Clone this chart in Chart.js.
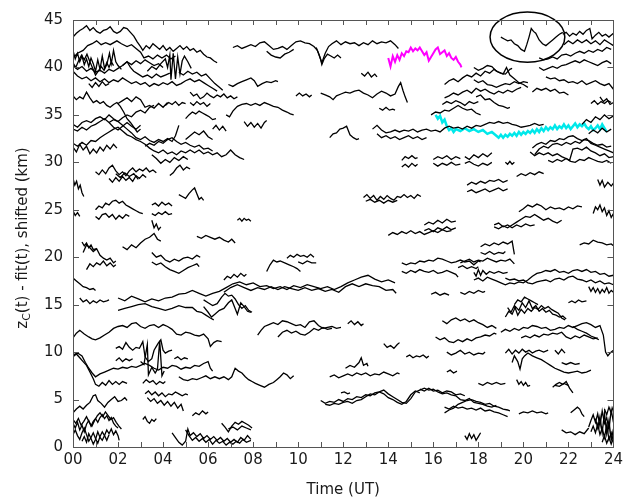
<!DOCTYPE html>
<html>
<head>
<meta charset="utf-8">
<script src="https://cdn.jsdelivr.net/npm/chart.js@4/dist/chart.umd.min.js"></script>
<style>
  body { margin: 0; background: #fff; }
  #wrap { width: 627px; height: 502px; }
</style>
</head>
<body>
<div id="wrap"><canvas id="chart" width="627" height="502"></canvas></div>
<script>
// each trace is a flat list: time (h UT), height (km), time, height, ...
const bandTop = [
  [0,43.2, 0.15,43.6, 0.3,43.9, 0.45,44.1, 0.6,44.4, 0.75,43.9, 0.9,44.2, 1.05,43.8, 1.2,43.6, 1.35,43.9, 1.5,44.0, 1.65,44.3, 1.8,43.8, 1.95,43.6, 2.1,43.8, 2.25,44.2, 2.4,44.1, 2.55,43.7, 2.7,43.3, 2.85,42.7, 3.0,42.2, 3.1,41.8, 3.25,42.3, 3.4,42.0, 3.55,42.5, 3.7,42.2, 3.85,41.9, 4.0,42.3, 4.15,41.8, 4.3,42.1, 4.45,41.7, 4.6,42.0, 4.75,42.3, 4.9,41.9, 5.05,42.2, 5.2,41.8, 5.35,42.0, 5.5,41.6, 5.65,41.8, 5.8,41.4, 5.95,41.1, 6.1,41.0, 6.25,40.7, 6.4,40.5],
  [0,41.0, 0.2,41.5, 0.45,41.8, 0.65,42.3, 0.85,42.5, 1.05,42.8, 1.25,42.4, 1.45,42.6, 1.65,42.4, 1.95,42.8, 2.15,42.5, 2.4,42.2, 2.6,42.4, 2.8,42.0, 3.0,41.6, 3.15,41.0, 3.35,41.2, 3.55,40.9, 3.75,41.3, 3.95,41.0, 4.15,41.3, 4.35,40.9, 4.55,41.2],
  [0,41.8, 0.1,40.9, 0.2,41.5, 0.3,40.6, 0.4,41.2, 0.5,40.3, 0.6,40.9, 0.7,40.1, 0.8,41.0, 0.9,40.4, 1.0,39.6, 1.1,40.8, 1.2,39.8, 1.3,41.2, 1.4,39.9, 1.5,40.5, 1.6,40.0, 1.7,40.6, 1.8,40.2],
  [0,40.5, 0.12,40.0, 0.25,40.7, 0.38,41.3, 0.5,40.8, 0.62,41.4, 0.75,40.6, 0.88,39.9, 1.0,39.2, 1.12,39.6, 1.25,40.1, 1.38,39.7, 1.5,40.3, 1.62,41.5, 1.7,40.4, 1.8,41.8, 1.9,40.6, 2.0,40.2, 2.15,39.8],
  [0,39.6, 0.2,39.1, 0.4,38.8, 0.6,39.0, 0.8,38.6, 1.0,38.9, 1.2,38.5, 1.4,38.8, 1.6,38.4, 1.8,38.7, 2.0,38.5, 2.2,38.9, 2.4,38.6, 2.6,38.3, 2.8,38.5, 3.0,38.2, 3.2,38.4, 3.4,38.0, 3.6,38.3, 3.8,38.1, 4.0,38.4, 4.2,38.2, 4.4,38.5, 4.6,38.1, 4.8,38.3, 5.0,38.6, 5.2,38.8, 5.4,38.5, 5.6,38.7, 5.8,38.4, 6.0,38.1, 6.2,37.8, 6.4,37.5],
  [0,40.2, 0.2,39.8, 0.4,40.1, 0.6,39.6, 0.8,39.9, 1.0,39.5, 1.2,39.7, 1.4,39.4, 1.6,39.8, 1.8,39.6, 2.0,39.9, 2.2,40.2, 2.4,40.6, 2.55,40.0, 2.7,39.6, 2.9,39.3, 3.1,39.0, 3.3,39.2, 3.5,38.9, 3.7,39.3, 3.9,39.0, 4.1,39.2, 4.3,39.4],
  [3.3,39.6, 3.5,40.1, 3.7,39.8, 3.9,40.4, 4.1,40.9, 4.2,40.0, 4.3,41.3, 4.35,38.7, 4.45,41.5, 4.55,38.8, 4.65,41.1, 4.75,39.3, 4.85,40.7, 4.95,41.2, 5.1,40.6, 5.25,39.9],
  [4.7,39.5, 4.9,39.2, 5.1,39.6, 5.3,39.3, 5.5,39.5, 5.7,39.1, 5.9,39.3, 6.1,38.8, 6.3,38.3, 6.5,37.9, 6.65,37.6],
  [0.7,38.3, 0.85,37.9, 1.0,38.4, 1.15,38.0, 1.3,38.5, 1.45,38.1, 1.6,38.3],
  [2.2,40.2, 2.4,40.6, 2.6,40.3, 2.8,40.7, 3.0,40.4, 3.2,40.8, 3.4,40.5, 3.6,40.2, 3.8,40.4, 4.0,40.0],
  [7.1,42.1, 7.3,42.3, 7.5,42.0, 7.7,42.2, 7.9,42.4, 8.1,42.2, 8.3,42.6, 8.5,42.7, 8.7,42.3, 8.9,41.9, 9.1,42.0, 9.3,42.2, 9.5,41.9, 9.7,42.3, 9.9,42.7, 10.1,42.8, 10.3,42.6, 10.5,42.5, 10.7,42.2, 10.85,41.8, 10.95,41.2, 11.05,40.5, 11.2,41.5, 11.35,42.2, 11.5,42.5, 11.7,42.8, 11.9,42.4, 12.1,42.7, 12.3,42.5, 12.5,42.6, 12.7,42.3, 12.9,42.6, 13.1,42.4, 13.3,42.8, 13.5,42.5, 13.7,42.7, 13.9,42.6, 14.1,42.8, 14.3,42.4, 14.45,42.0],
  [8.6,41.7, 8.8,41.3, 9.0,41.1, 9.2,41.0, 9.4,41.4, 9.6,41.6, 9.8,41.9],
  [10.8,42.1, 10.9,41.5, 11.0,40.8, 11.05,40.3, 11.15,40.9, 11.3,41.4, 11.45,41.2, 11.6,41.0, 11.75,41.3, 11.9,41.0],
  [19.0,43.2, 19.15,43.0, 19.3,42.8, 19.45,42.9, 19.6,42.5, 19.75,42.3, 19.9,41.9, 20.05,41.7, 20.15,42.4, 20.25,43.2, 20.35,44.1, 20.45,43.8, 20.55,43.6, 20.7,42.9, 20.85,42.5, 21.0,42.3, 21.15,42.6, 21.3,42.9, 21.45,43.2, 21.6,43.5, 21.75,43.7],
  [21.75,43.5, 21.9,43.7, 22.05,43.3, 22.2,43.6, 22.35,43.4, 22.5,43.8, 22.65,43.5, 22.8,43.9, 22.95,44.1, 23.05,43.0, 23.2,43.4, 23.35,43.7, 23.5,43.3, 23.65,43.5, 23.8,43.2, 24.0,43.6],
  [21.8,42.4, 22.0,42.8, 22.2,42.5, 22.4,42.9, 22.6,42.6, 22.8,42.9, 23.0,42.5, 23.2,42.8, 23.4,42.4, 23.6,42.9, 23.8,42.6, 24.0,42.3],
  [20.7,40.0, 20.9,39.7, 21.1,39.9, 21.3,40.1, 21.5,39.9, 21.7,40.2, 21.9,40.3, 22.1,40.5, 22.3,40.7, 22.5,40.5, 22.7,40.8, 22.9,40.6, 23.1,40.4, 23.3,40.2, 23.5,40.5, 23.7,40.7, 23.9,40.4],
  [20.7,41.0, 20.9,40.8, 21.1,40.9, 21.3,41.1, 21.5,40.9, 21.7,41.3, 21.9,41.4, 22.1,41.2, 22.3,41.5, 22.5,41.7, 22.7,41.5, 22.9,41.8, 23.1,41.6, 23.3,41.9, 23.5,41.7, 23.7,42.1, 23.9,41.9],
  [21.0,39.0, 21.2,38.8, 21.4,38.9, 21.6,38.6, 21.8,38.7, 22.0,38.4, 22.2,38.5, 22.4,38.3, 22.6,38.6, 22.8,38.2, 23.0,38.4, 23.2,38.6, 23.4,38.3, 23.6,38.1, 23.8,38.3, 24.0,37.7],
  [16.5,38.2, 16.7,38.6, 16.9,38.8, 17.1,38.5, 17.3,38.9, 17.5,39.2, 17.7,39.0, 17.9,39.4, 18.1,39.1, 18.3,39.6, 18.5,39.4, 18.7,39.8, 18.9,39.5, 19.1,39.3, 19.25,40.0, 19.4,39.2, 19.6,38.8, 19.8,38.4, 20.0,38.2, 20.2,37.9],
  [17.8,40.0, 18.0,39.7, 18.2,39.9, 18.4,40.2, 18.6,40.1, 18.8,39.6, 19.0,39.4, 19.2,39.3, 19.4,39.8, 19.5,39.9],
  [17.8,38.7, 18.0,38.4, 18.2,38.6, 18.4,38.2, 18.6,38.1, 18.8,37.9, 19.0,38.1, 19.2,38.3, 19.4,38.2, 19.6,38.5, 19.8,38.3, 20.0,38.5, 20.2,38.4],
  [6.9,38.2, 7.1,38.0, 7.3,38.3, 7.5,38.5, 7.7,38.7, 7.9,38.9, 8.05,38.6, 8.2,38.0, 8.4,38.3, 8.6,38.5, 8.8,38.4, 9.0,38.6, 9.1,38.5],
  [12.8,39.4, 12.95,39.1, 13.1,39.5, 13.25,39.0, 13.4,39.3, 13.5,39.0]
];

const band30 = [
  [5.2,37.4, 5.35,37.0, 5.5,37.2, 5.65,36.7, 5.8,36.9, 5.95,37.3, 6.1,37.0, 6.25,36.8, 6.4,37.1, 6.55,36.9, 6.7,37.2, 6.85,36.8, 7.0,37.0, 7.15,36.7, 7.3,36.9],
  [5.2,36.3, 5.35,36.0, 5.5,36.4, 5.65,36.1, 5.8,36.3, 5.95,35.9, 6.1,36.2],
  [0,37.0, 0.15,36.6, 0.3,36.9, 0.45,36.7, 0.6,37.4, 0.75,36.8, 0.9,36.3, 1.05,36.5, 1.2,36.2, 1.35,36.4, 1.5,36.0, 1.65,35.8, 1.8,36.1, 1.95,36.3, 2.1,35.9, 2.25,35.3, 2.4,34.6, 2.55,34.2, 2.7,33.7, 2.85,33.2, 3.0,33.5],
  [2.0,36.2, 2.2,36.5, 2.4,36.8, 2.6,36.4, 2.8,36.9, 3.0,36.6, 3.2,35.8, 3.4,36.0, 3.6,35.7, 3.8,36.2, 4.0,35.8, 4.2,36.3],
  [4.1,36.0, 4.25,36.3, 4.4,36.1, 4.55,36.4, 4.7,36.0, 4.85,36.3, 5.0,36.2],
  [5.0,34.6, 5.15,35.0, 5.3,35.3, 5.45,35.1, 5.6,35.4, 5.75,35.2, 5.9,35.0, 6.05,34.8, 6.2,34.5, 6.35,34.6],
  [6.2,33.5, 6.35,33.9, 6.5,33.4, 6.65,33.8, 6.8,33.3],
  [0,34.0, 0.2,33.7, 0.4,34.2, 0.6,34.4, 0.8,34.2, 1.0,34.6, 1.2,34.8, 1.4,34.5, 1.6,35.0, 1.8,34.6, 2.0,34.3, 2.2,33.9, 2.4,33.5, 2.6,33.1, 2.8,32.6, 3.0,32.4, 3.2,32.7, 3.4,32.3, 3.6,32.1, 3.8,32.4, 4.0,32.2, 4.2,32.5, 4.4,32.2, 4.55,32.8, 4.7,33.9],
  [0,33.5, 0.2,33.3, 0.4,33.7, 0.6,33.4, 0.8,33.8, 1.0,34.0, 1.2,34.3, 1.4,34.6, 1.6,34.2, 1.8,33.7, 2.0,33.4, 2.2,33.8, 2.4,34.2, 2.6,33.8, 2.8,33.5, 3.0,33.9],
  [1.6,34.2, 1.8,34.5, 2.0,34.3, 2.2,34.7, 2.4,35.0, 2.6,34.8, 2.8,35.3, 3.0,35.5, 3.2,35.2, 3.4,35.8, 3.6,36.0],
  [0,32.0, 0.2,31.7, 0.4,32.1, 0.6,31.8, 0.8,32.3, 1.0,32.2, 1.2,32.6, 1.4,32.9, 1.6,33.2, 1.8,33.5, 2.0,33.7, 2.2,33.3, 2.4,32.9, 2.6,32.7, 2.8,32.4, 3.0,32.2, 3.2,31.9, 3.4,31.5, 3.6,31.2, 3.8,31.0, 4.0,31.3, 4.2,30.9, 4.4,31.1, 4.6,30.8, 4.8,31.2, 5.0,31.0, 5.2,31.3, 5.4,31.0, 5.6,31.3, 5.8,30.9, 6.0,31.1, 6.2,30.8, 6.4,31.0, 6.6,30.6, 6.8,30.8, 7.0,31.3, 7.2,30.8, 7.4,30.5, 7.6,30.3],
  [0,31.6, 0.15,31.1, 0.3,31.9, 0.45,31.3, 0.6,31.7, 0.75,30.9, 0.9,31.4, 1.05,31.0, 1.2,31.6, 1.35,31.2, 1.5,31.8, 1.65,31.4, 1.8,31.9, 1.95,31.5],
  [3.2,31.7, 3.4,32.0, 3.6,31.8, 3.8,32.2, 4.0,32.0, 4.2,32.4, 4.4,32.6, 4.6,32.2, 4.8,31.9, 5.0,32.1, 5.2,31.8, 5.4,31.6, 5.6,31.8, 5.8,31.4, 6.0,31.5, 6.2,31.2],
  [5.0,32.4, 5.2,32.8, 5.4,33.2, 5.6,32.9, 5.8,33.3, 6.0,32.7, 6.2,32.4],
  [3.5,30.8, 3.7,30.4, 3.9,29.9, 4.1,30.3, 4.3,30.0, 4.5,30.5, 4.7,30.2, 4.9,30.6, 5.1,30.3],
  [16.5,36.8, 16.7,37.0, 16.9,37.3, 17.1,37.1, 17.3,37.4, 17.5,37.6, 17.7,37.3, 17.9,37.8, 18.1,37.5, 18.3,37.7, 18.5,37.4, 18.7,37.2, 18.9,37.5, 19.1,37.3, 19.3,37.6, 19.5,37.4, 19.7,37.7, 19.9,37.9],
  [17.9,36.9, 18.1,37.1, 18.3,36.6, 18.5,36.7, 18.7,36.3, 18.9,36.0, 19.1,35.9, 19.3,35.7, 19.4,35.8],
  [15.9,35.0, 16.1,35.3, 16.3,35.2, 16.5,35.5, 16.7,35.4, 16.9,35.7, 17.1,36.0, 17.3,35.7, 17.5,35.5, 17.7,35.6, 17.9,35.2, 18.1,35.0],
  [16.4,36.1, 16.6,36.4, 16.8,36.2, 17.0,36.5, 17.2,36.3, 17.4,36.0, 17.6,36.4, 17.8,36.2, 18.0,36.4],
  [13.6,35.7, 13.75,35.5, 13.9,35.8, 14.05,35.5, 14.2,35.6, 14.3,35.5],
  [11.0,37.3, 11.2,37.1, 11.4,36.9, 11.55,36.6, 11.7,37.0, 11.9,37.2, 12.1,37.4, 12.3,37.3, 12.5,37.5, 12.7,37.6, 12.9,37.3, 13.1,37.1, 13.3,36.8, 13.5,37.2, 13.7,37.5, 13.9,37.3, 14.1,37.0, 14.3,37.2, 14.45,38.0, 14.55,38.4, 14.65,37.6, 14.75,36.9, 14.85,36.3],
  [9.9,37.0, 10.05,37.3, 10.2,37.0, 10.35,37.2, 10.5,36.9, 10.6,37.1],
  [6.8,35.0, 6.95,34.8, 7.1,35.4, 7.3,35.9, 7.5,36.1, 7.7,36.2, 7.9,36.0, 8.1,36.2, 8.3,36.0, 8.5,36.3, 8.7,36.1, 8.9,35.9, 9.1,35.8, 9.3,35.5, 9.5,35.3, 9.65,35.1, 9.8,35.0],
  [7.6,34.3, 7.75,33.8, 7.9,34.2, 8.05,33.7, 8.2,34.1, 8.35,33.6, 8.5,34.2, 8.6,34.4],
  [11.4,32.6, 11.55,33.0, 11.7,33.1, 11.85,33.5, 12.0,33.6, 12.15,33.8, 12.3,32.9, 12.45,32.6, 12.6,32.4, 12.7,32.5],
  [13.3,33.5, 13.5,33.9, 13.7,33.4, 13.9,33.1, 14.1,33.2, 14.3,33.4, 14.5,33.2, 14.7,33.4, 14.9,33.3, 15.1,33.5, 15.3,33.2, 15.5,33.4, 15.7,33.5, 15.9,33.3, 16.1,33.4, 16.3,33.2, 16.5,33.6, 16.7,33.8, 16.9,33.6, 17.1,33.7, 17.3,33.5, 17.5,33.8, 17.7,33.6, 17.9,33.9, 18.1,33.8, 18.3,34.0, 18.5,34.2, 18.7,34.1, 18.9,34.3, 19.1,34.1, 19.3,34.2, 19.5,34.0, 19.7,33.9, 19.9,33.7, 20.1,33.8, 20.3,33.9, 20.5,34.1, 20.7,33.9, 20.9,34.0],
  [13.5,33.0, 13.7,32.6, 13.9,32.8, 14.1,32.5, 14.3,32.7, 14.5,32.4, 14.7,32.6, 14.9,32.8, 15.1,32.5, 15.3,32.7, 15.5,32.4, 15.7,32.6],
  [22.6,34.0, 22.8,34.5, 23.0,34.2, 23.2,34.8, 23.4,34.5, 23.6,35.0, 23.8,34.6, 24.0,34.9],
  [22.9,33.0, 23.1,33.4, 23.3,33.1, 23.5,33.6, 23.7,33.2, 23.9,33.5],
  [20.4,31.5, 20.6,31.9, 20.8,32.1, 21.0,31.9, 21.2,32.3, 21.4,32.2, 21.6,32.5, 21.8,32.4, 22.0,32.7, 22.2,32.8, 22.4,32.5, 22.6,32.3, 22.8,32.5, 23.0,32.0, 23.2,31.8, 23.4,31.6, 23.6,31.4, 23.8,31.2, 24.0,31.0],
  [20.3,31.1, 20.5,30.7, 20.7,31.0, 20.9,30.8, 21.1,31.0, 21.3,30.7, 21.5,30.9, 21.7,30.6, 21.9,30.4, 22.05,30.2, 22.2,31.4, 22.4,31.5, 22.6,31.3, 22.8,31.6, 23.0,31.2, 23.2,31.0, 23.4,30.7, 23.6,30.9, 23.8,30.5, 24.0,30.6],
  [20.5,30.8, 20.7,31.4, 20.9,31.7, 21.1,31.5, 21.3,31.9, 21.5,32.0, 21.7,31.8, 21.9,32.1, 22.1,31.9, 22.3,32.2, 22.5,32.0, 22.7,32.4, 22.9,32.3, 23.1,32.0, 23.3,31.8, 23.5,31.9, 23.7,31.6, 23.9,31.7],
  [21.1,30.2, 21.3,30.0, 21.5,30.3, 21.7,30.1, 21.9,30.4, 22.1,30.1, 22.3,30.0, 22.5,30.3, 22.7,30.2, 22.9,30.5, 23.1,30.3, 23.3,30.1, 23.5,30.0, 23.7,30.2, 23.9,29.9],
  [23.0,36.2, 23.15,36.5, 23.3,36.1, 23.45,36.4, 23.6,36.2, 23.75,36.5, 23.9,36.3],
  [23.4,36.9, 23.55,36.4, 23.7,36.7, 23.85,36.1, 24.0,36.3],
  [20.4,37.4, 20.6,37.8, 20.8,37.6, 21.0,37.8, 21.2,37.5, 21.4,37.7, 21.6,37.3, 21.8,37.4, 22.0,37.1]
];

const band20 = [
  [1.0,29.0, 1.15,28.7, 1.3,29.2, 1.45,28.8, 1.6,29.4, 1.75,29.7, 1.9,29.1, 2.05,28.7, 2.2,29.0, 2.35,28.6, 2.5,29.1, 2.65,29.4, 2.8,29.0, 2.95,29.3, 3.1,29.1, 3.25,29.4, 3.4,29.0, 3.55,29.2, 3.7,28.9],
  [1.6,28.3, 1.75,27.9, 1.9,28.4, 2.05,28.0, 2.2,28.5, 2.35,28.1, 2.5,28.4, 2.65,28.0, 2.8,28.6, 2.95,28.3, 3.1,28.7, 3.25,28.4],
  [1.9,28.8, 2.1,28.4, 2.3,28.9, 2.5,28.5, 2.7,28.8, 2.9,28.2],
  [4.3,28.6, 4.45,28.9, 4.6,29.4, 4.75,29.7, 4.9,29.2, 5.05,29.5, 5.2,29.3],
  [0,28.3, 0.08,27.6, 0.16,28.0, 0.24,27.2, 0.32,27.6, 0.4,26.8, 0.48,26.4],
  [4.7,26.6, 4.85,26.4, 5.0,26.2, 5.15,26.7, 5.3,27.1, 5.4,27.3, 5.5,26.7, 5.6,26.1, 5.7,26.3, 5.8,26.0],
  [1.0,25.0, 1.15,25.4, 1.3,25.2, 1.45,25.7, 1.6,25.5, 1.75,25.9, 1.9,26.0, 2.05,25.7, 2.2,25.9, 2.35,25.5, 2.5,25.3, 2.65,25.1, 2.8,24.9, 2.95,24.7, 3.1,24.6],
  [1.0,24.3, 1.15,24.0, 1.3,24.5, 1.45,24.6, 1.6,24.2, 1.75,24.5, 1.9,24.0, 2.05,24.4, 2.2,24.1, 2.35,24.5, 2.5,24.3],
  [3.5,25.5, 3.65,25.7, 3.8,25.4, 3.95,25.8, 4.1,25.5, 4.25,25.7, 4.4,25.4],
  [3.5,24.6, 3.65,24.4, 3.8,24.7, 3.95,24.5, 4.1,24.8, 4.25,24.5, 4.4,24.6],
  [3.5,23.9, 3.6,23.1, 3.7,23.5, 3.8,22.9, 3.9,23.2],
  [7.3,23.9, 7.4,24.1, 7.5,23.8, 7.6,24.1, 7.7,23.9, 7.8,24.0, 7.9,23.8],
  [5.5,22.2, 5.7,22.0, 5.9,22.3, 6.1,22.1, 6.3,21.9, 6.5,22.1, 6.7,21.8, 6.9,21.6, 7.05,21.9, 7.2,21.5],
  [0,24.9, 0.1,24.4, 0.2,24.7, 0.3,24.3],
  [0.4,21.6, 0.5,21.2, 0.6,21.5, 0.7,21.0, 0.8,21.3, 0.9,20.8, 1.05,20.9],
  [0.45,20.5, 0.6,21.3, 0.75,21.0, 0.9,20.6, 1.05,20.9, 1.2,20.2, 1.35,19.9, 1.5,19.7, 1.65,19.9, 1.8,19.4, 1.9,19.6],
  [0.6,18.7, 0.75,19.3, 0.9,19.0, 1.05,19.4, 1.2,19.2, 1.35,19.6, 1.5,19.1, 1.65,19.4, 1.8,19.0, 1.9,19.2],
  [2.2,21.1, 2.4,20.8, 2.6,21.3, 2.8,21.0, 3.0,21.5, 3.2,21.9, 3.4,22.1, 3.6,22.5, 3.75,21.9, 3.9,21.7],
  [3.5,20.5, 3.7,20.0, 3.9,20.2, 4.1,19.7, 4.3,19.5, 4.5,19.8, 4.7,19.6, 4.9,19.9, 5.1,20.0, 5.3,19.8, 5.5,20.2, 5.65,20.0],
  [3.5,19.5, 3.7,19.2, 3.9,19.4, 4.1,19.0, 4.3,18.7, 4.5,18.5, 4.7,18.3, 4.9,18.6, 5.1,18.9, 5.3,19.1, 5.5,19.3, 5.6,19.0],
  [8.6,18.5, 8.75,19.2, 8.9,19.7, 9.05,19.5, 9.2,19.6, 9.4,19.4, 9.6,19.2, 9.8,19.0, 9.95,18.8, 10.1,18.5],
  [9.5,19.9, 9.65,20.2, 9.8,20.0, 9.95,20.3, 10.1,20.1, 10.25,20.2, 10.4,20.0, 10.55,20.3, 10.7,20.0],
  [10.0,19.5, 10.2,19.3, 10.4,19.6, 10.6,19.4, 10.8,19.4],
  [14.6,30.2, 14.75,30.6, 14.9,30.4, 15.05,30.7, 15.2,30.4, 15.3,30.5],
  [14.6,29.5, 14.75,29.8, 14.9,29.5, 15.05,29.9, 15.2,29.6, 15.3,29.8],
  [16.0,30.3, 16.2,30.6, 16.4,30.4, 16.6,30.7, 16.8,30.3, 17.0,30.6, 17.2,30.4],
  [16.0,29.9, 16.2,29.6, 16.4,29.9, 16.6,29.7, 16.8,30.0, 17.0,29.7, 17.2,29.8],
  [17.4,30.6, 17.6,30.3, 17.8,30.8, 18.0,30.5, 18.2,30.9, 18.4,30.6, 18.6,31.0],
  [17.4,29.9, 17.6,30.1, 17.8,29.8, 18.0,29.6, 18.2,29.9, 18.4,29.7, 18.6,30.0],
  [19.2,30.0, 19.3,29.8, 19.4,30.1, 19.5,29.8, 19.6,30.0],
  [19.7,28.5, 19.9,28.8, 20.1,28.6, 20.3,28.9, 20.5,28.7, 20.7,29.0, 20.9,28.8],
  [17.5,27.6, 17.7,27.9, 17.9,27.7, 18.1,28.0, 18.3,27.8, 18.5,28.1, 18.7,28.0, 18.9,28.2, 19.1,27.9, 19.3,28.1],
  [17.5,26.9, 17.7,27.1, 17.9,26.8, 18.1,27.0, 18.3,27.2, 18.5,26.9, 18.7,27.1, 18.9,27.3, 19.1,27.0, 19.3,27.2],
  [23.3,28.2, 23.4,27.6, 23.5,28.1, 23.6,27.4, 23.75,27.9, 23.9,27.5, 24.0,27.8],
  [12.9,26.3, 13.05,26.6, 13.2,26.2, 13.35,26.5, 13.5,26.0, 13.65,26.4, 13.8,26.1, 13.95,26.5, 14.1,26.2, 14.25,26.0, 14.4,26.4, 14.55,26.3, 14.7,26.6, 14.85,26.3, 15.0,26.5, 15.15,26.2, 15.3,26.6, 15.45,26.4],
  [13.0,25.9, 13.2,26.1, 13.4,25.8, 13.6,26.0, 13.8,25.7, 14.0,26.0, 14.2,25.8, 14.4,26.0],
  [19.8,24.8, 20.0,25.1, 20.2,25.5, 20.4,25.3, 20.6,25.6, 20.8,25.4, 21.0,25.0, 21.2,25.3, 21.4,25.1, 21.6,25.2, 21.8,25.0, 22.0,25.3, 22.2,25.1, 22.4,25.4, 22.6,25.3],
  [18.7,23.2, 18.9,23.0, 19.1,23.3, 19.3,23.1, 19.5,23.4, 19.7,23.7, 19.9,24.0, 20.1,24.3, 20.3,24.2, 20.5,24.5, 20.7,24.2, 20.9,23.9, 21.1,24.1, 21.3,23.8, 21.5,23.6, 21.7,23.9],
  [18.7,23.4, 18.9,23.6, 19.1,23.2, 19.3,23.4, 19.5,23.1, 19.7,23.4, 19.9,23.2, 20.1,23.5, 20.3,23.3, 20.5,23.4],
  [23.1,24.6, 23.2,25.3, 23.3,25.0, 23.4,25.5, 23.5,24.8, 23.6,25.2, 23.7,24.4, 23.8,24.9, 23.9,24.2, 24.0,24.6],
  [15.6,23.4, 15.8,23.7, 16.0,23.5, 16.2,23.9, 16.4,23.6, 16.6,24.0, 16.8,23.7, 17.0,23.8],
  [15.6,22.8, 15.8,23.0, 16.0,22.7, 16.2,23.1, 16.4,22.9, 16.6,23.2, 16.8,22.9, 17.0,23.1],
  [14.0,22.3, 14.2,22.6, 14.4,22.4, 14.6,22.7, 14.8,22.5, 15.0,22.8, 15.2,22.5, 15.4,22.7, 15.6,22.4, 15.8,22.6, 16.0,22.8, 16.2,22.6, 16.4,22.9, 16.6,22.7, 16.8,22.8],
  [18.1,21.1, 18.3,21.4, 18.5,21.2, 18.7,21.5, 18.9,21.3, 19.1,21.6, 19.3,21.4, 19.5,21.7, 19.6,20.3],
  [18.1,20.5, 18.3,20.3, 18.5,20.6, 18.7,20.3, 18.9,20.5, 19.1,20.4, 19.2,20.6],
  [22.5,21.3, 22.7,21.5, 22.9,21.4, 23.1,21.8, 23.3,21.6, 23.5,21.5, 23.7,21.3, 23.9,21.4, 24.0,21.2]
];

const band10 = [
  [0,17.8, 0.15,17.5, 0.3,17.2, 0.45,16.9, 0.6,16.8, 0.75,16.6, 0.9,16.7, 1.0,16.5],
  [0.3,15.7, 0.45,15.3, 0.6,15.5, 0.75,15.1, 0.9,15.4, 1.05,15.2, 1.2,15.5, 1.35,15.3, 1.5,15.4, 1.6,15.5],
  [2.0,15.7, 2.3,15.4, 2.6,15.9, 2.9,15.6, 3.2,15.3, 3.5,15.6, 3.8,15.4, 4.1,15.7, 4.4,15.8, 4.7,16.1, 5.0,16.2, 5.3,16.5, 5.6,16.2, 5.9,15.9, 6.2,16.2, 6.5,16.4, 6.8,16.8, 7.1,17.2, 7.4,17.4, 7.7,17.1, 8.0,17.3, 8.3,16.9, 8.6,17.0, 8.9,16.7, 9.2,16.9, 9.5,16.6, 9.8,17.0, 10.1,16.8, 10.4,17.1, 10.7,16.9, 11.0,16.7, 11.3,16.9, 11.6,16.6, 11.9,16.9, 12.2,17.3, 12.5,17.6, 12.8,17.9, 13.1,18.1, 13.4,17.7, 13.7,17.4, 14.0,17.6, 14.3,17.3],
  [6.7,16.3, 7.0,16.8, 7.3,17.1, 7.6,16.8, 7.9,16.5, 8.2,16.8, 8.5,16.6, 8.8,16.9, 9.1,16.6, 9.4,16.9, 9.7,16.7, 10.0,16.5, 10.3,16.8, 10.6,16.5, 10.9,16.7, 11.2,16.4, 11.5,16.6, 11.8,16.3, 12.1,16.9, 12.4,17.2, 12.7,16.9, 13.0,17.2, 13.3,17.0, 13.6,16.9, 13.9,16.5, 14.2,16.6, 14.35,16.2],
  [2.0,14.4, 2.3,14.6, 2.6,14.8, 2.9,15.0, 3.2,15.1, 3.5,14.8, 3.8,14.6, 4.1,14.4, 4.4,14.6, 4.7,14.9, 5.0,14.7, 5.3,14.7, 5.5,14.3, 5.7,14.2, 5.9,13.9, 6.1,13.6, 6.25,13.4],
  [5.8,15.5, 6.0,15.2, 6.2,14.9, 6.4,15.1, 6.6,15.8, 6.75,16.2, 6.9,15.9, 7.05,16.0, 7.2,15.6, 7.35,15.0, 7.5,14.6, 7.65,14.9, 7.8,14.4, 7.95,14.2],
  [5.8,14.8, 6.0,14.2, 6.15,13.7, 6.3,14.0, 6.5,14.4, 6.7,14.6, 6.9,15.2, 7.05,15.5, 7.2,14.6, 7.3,14.0, 7.45,15.2, 7.6,14.8, 7.75,14.3, 7.9,14.2],
  [6.7,17.6, 6.85,18.0, 7.0,17.8, 7.15,18.2, 7.3,17.9, 7.45,18.3, 7.6,18.0, 7.7,18.2],
  [0,11.5, 0.15,12.0, 0.3,12.3, 0.5,11.9, 0.7,11.6, 0.85,11.4, 1.0,11.3, 1.2,11.5, 1.4,11.8, 1.6,12.1, 1.8,12.5, 2.0,12.7, 2.2,12.8, 2.4,12.6, 2.6,13.0, 2.8,13.1, 3.0,12.7, 3.2,12.5, 3.4,12.8, 3.6,12.9, 3.8,12.6, 4.0,12.9, 4.2,12.7, 4.4,12.4, 4.6,11.9, 4.8,11.8, 5.0,12.1, 5.2,12.0, 5.4,11.8, 5.6,11.7, 5.8,11.9, 6.0,11.4, 6.1,10.6, 6.25,11.0, 6.4,11.2, 6.6,11.1],
  [8.2,11.8, 8.35,12.3, 8.5,12.7, 8.7,12.9, 8.9,13.1, 9.1,12.9, 9.3,13.3, 9.5,13.2, 9.7,13.0, 9.9,12.8, 10.1,12.9, 10.3,12.6, 10.5,13.2, 10.7,13.3, 10.9,12.8, 11.1,12.5, 11.3,12.6, 11.5,12.7, 11.7,12.5, 11.9,12.6],
  [9.1,11.6, 9.3,12.1, 9.5,12.3, 9.7,12.0, 9.9,12.2, 10.1,11.9, 10.3,11.8, 10.5,12.1, 10.7,12.5, 10.9,12.3, 11.1,12.6, 11.3,12.4, 11.5,12.5],
  [14.6,19.4, 14.8,19.2, 15.0,19.4, 15.2,19.3, 15.4,19.6, 15.6,19.5, 15.8,19.7, 16.0,19.6, 16.2,19.9, 16.4,19.8, 16.6,19.6, 16.8,19.4, 17.0,19.5, 17.2,19.7, 17.4,19.5, 17.6,19.6, 17.8,19.2, 18.0,19.6, 18.1,19.5],
  [14.6,18.5, 14.8,18.3, 15.0,18.6, 15.2,18.4, 15.4,18.7, 15.6,18.5, 15.8,18.4, 16.0,18.6, 16.2,18.3, 16.4,18.4, 16.6,18.6, 16.8,18.4, 17.0,18.2, 17.1,17.9],
  [17.2,19.4, 17.4,19.6, 17.6,19.8, 17.8,19.5, 18.0,19.7, 18.2,19.6, 18.4,19.9, 18.6,19.7, 18.8,19.5, 19.0,19.7, 19.2,19.6, 19.4,19.8, 19.6,19.3],
  [17.1,18.9, 17.3,19.1, 17.5,18.8, 17.7,19.0, 17.9,18.8, 18.0,19.0],
  [17.8,18.4, 17.9,18.0, 18.0,18.7, 18.1,18.1, 18.2,18.6, 18.35,18.2, 18.5,18.5, 18.7,18.3, 18.9,18.5, 19.1,18.3, 19.3,18.4],
  [17.8,17.6, 18.0,17.8, 18.2,17.5, 18.4,17.9, 18.6,17.7, 18.8,17.5, 19.0,17.3, 19.2,17.1, 19.4,17.3, 19.6,17.2, 19.8,17.4, 20.0,17.3, 20.2,17.6, 20.4,18.0, 20.6,18.3, 20.8,18.4, 21.0,18.6, 21.2,18.5, 21.4,18.7, 21.6,18.4, 21.8,18.5, 22.0,18.3, 22.2,18.6, 22.4,18.7, 22.6,18.5, 22.8,18.7, 23.0,18.4, 23.2,18.5, 23.4,18.2, 23.6,18.3, 23.8,18.0, 24.0,18.1],
  [19.2,17.8, 19.4,17.6, 19.6,17.7, 19.8,17.5, 20.0,17.6, 20.2,17.3, 20.4,17.2, 20.6,17.4, 20.8,17.5, 21.0,17.6, 21.2,17.4, 21.4,17.7, 21.6,17.8, 21.8,17.6, 22.0,17.9, 22.2,18.0, 22.4,17.7, 22.6,17.6, 22.8,17.4, 23.0,17.6, 23.2,17.3, 23.4,17.5, 23.6,17.2, 23.8,17.3, 24.0,17.1],
  [22.9,16.9, 23.0,16.4, 23.1,16.8, 23.2,16.3, 23.3,16.7, 23.4,16.2, 23.5,16.6, 23.6,16.3, 23.7,16.8, 23.8,16.2, 23.9,16.5, 24.0,16.3],
  [22.0,15.2, 22.15,15.4, 22.3,15.2, 22.45,15.5, 22.6,15.3, 22.8,15.4],
  [15.9,16.1, 16.1,16.3, 16.3,16.0, 16.5,16.2, 16.7,16.0],
  [17.2,16.3, 17.4,16.1, 17.6,16.4, 17.8,16.2, 18.0,16.5, 18.2,16.3, 18.3,16.4],
  [12.2,13.0, 12.35,13.3, 12.5,12.9, 12.65,13.2, 12.8,12.8, 12.9,13.0],
  [13.8,10.9, 13.95,10.5, 14.1,10.7, 14.25,10.4, 14.4,10.8, 14.5,11.0],
  [16.1,11.6, 16.3,11.3, 16.5,11.5, 16.7,11.1, 16.9,11.0, 17.1,11.3, 17.3,11.1, 17.5,11.4, 17.7,11.2, 17.9,11.5, 18.1,11.6, 18.3,11.8, 18.5,11.7, 18.7,12.0, 18.8,11.9],
  [16.4,13.3, 16.6,13.0, 16.8,13.4, 17.0,13.6, 17.2,13.3, 17.4,13.5, 17.6,13.2, 17.8,13.4, 18.0,13.1, 18.2,12.9, 18.4,12.6, 18.6,12.8, 18.8,12.5],
  [19.0,12.1, 19.2,12.4, 19.4,12.2, 19.6,12.5, 19.8,12.3, 20.0,12.6, 20.2,12.5, 20.4,12.8, 20.6,12.7, 20.8,12.5, 21.0,12.6, 21.2,12.3, 21.4,12.4, 21.6,12.6, 21.8,12.5, 22.0,12.8, 22.2,12.6, 22.4,12.8, 22.6,13.0, 22.8,13.1, 23.0,12.9, 23.2,12.6, 23.4,12.8, 23.55,11.8, 23.65,10.0, 23.75,9.6, 23.85,9.9, 24.0,10.2],
  [19.9,11.5, 20.1,11.7, 20.3,11.5, 20.5,11.8, 20.7,11.6, 20.9,11.9, 21.1,11.8, 21.3,12.0, 21.5,11.9, 21.7,12.1, 21.9,11.6, 22.1,11.4, 22.3,11.7, 22.5,11.5, 22.7,11.8, 22.9,11.6, 23.1,11.4, 23.3,11.5],
  [22.2,12.7, 22.4,12.4, 22.6,12.2, 22.8,12.0, 23.0,11.7, 23.2,11.5, 23.35,11.3],
  [19.2,13.7, 19.35,14.3, 19.5,14.0, 19.65,14.8, 19.8,14.4, 19.95,15.2, 20.1,14.7, 20.25,15.4, 20.4,14.6, 20.55,14.9, 20.7,14.3, 20.85,14.6, 21.0,14.2, 21.15,14.4, 21.3,14.0, 21.45,13.9, 21.6,13.7, 21.75,13.8, 21.9,13.5],
  [19.3,14.7, 19.45,14.2, 19.6,14.9, 19.75,13.9, 19.9,14.5, 20.05,14.1, 20.2,14.6, 20.35,14.3, 20.5,14.7, 20.65,14.5, 20.8,14.9, 20.95,14.6, 21.1,14.8, 21.25,14.5, 21.4,14.3, 21.55,14.1, 21.7,13.6, 21.85,13.4],
  [19.6,15.0, 19.75,15.5, 19.9,15.3, 20.05,15.8, 20.2,15.6, 20.35,15.4, 20.5,15.2, 20.65,15.0]
];

const band0 = [
  [0,9.7, 0.2,9.9, 0.4,9.6, 0.55,8.9, 0.7,8.3, 0.85,7.8, 1.0,7.4, 1.2,7.7, 1.4,7.9, 1.6,8.1, 1.8,8.3, 2.0,8.2, 2.2,8.4, 2.4,8.3, 2.6,8.5, 2.8,8.4, 3.0,8.6, 3.2,8.8, 3.4,8.6, 3.6,8.3, 3.8,8.1, 4.0,8.4, 4.2,8.3, 4.4,8.6, 4.6,8.5, 4.8,8.2, 5.0,8.4, 5.2,8.3, 5.4,8.6, 5.6,8.5, 5.8,8.8, 6.0,9.0, 6.1,8.3, 6.2,8.0],
  [0,9.5, 0.15,9.8, 0.3,9.4, 0.45,9.0, 0.6,8.6, 0.75,7.9, 0.9,7.2, 1.0,6.6, 1.15,6.4, 1.3,6.8, 1.45,6.5, 1.6,7.0, 1.75,6.6, 1.9,6.9, 2.05,6.6, 2.2,6.9, 2.4,6.7],
  [1.9,10.4, 2.05,10.6, 2.2,10.3, 2.35,11.0, 2.5,10.5, 2.65,10.2, 2.8,10.5, 2.95,10.4, 3.1,11.1, 3.2,9.5, 3.35,9.0, 3.5,9.3, 3.6,10.2, 3.7,10.6, 3.8,11.0, 3.9,11.3, 4.0,10.2, 4.1,9.9, 4.25,10.1, 4.4,10.2],
  [3.0,9.0, 3.15,8.7, 3.3,10.8, 3.35,7.6, 3.5,8.4, 3.65,7.8, 3.75,8.2, 3.85,11.2, 3.95,7.5, 4.05,8.0],
  [1.9,9.1, 2.05,9.4, 2.2,9.0, 2.35,9.3, 2.5,9.1, 2.65,9.3],
  [4.5,9.3, 4.65,9.5, 4.8,9.2, 4.95,9.4, 5.1,9.3],
  [4.7,7.4, 4.9,7.1, 5.1,7.0, 5.3,7.2, 5.5,7.1, 5.7,7.3, 5.9,7.5, 6.1,7.2, 6.3,7.4, 6.5,7.2, 6.7,7.4, 6.9,7.1, 7.05,7.4, 7.2,8.3, 7.35,8.0, 7.5,7.8, 7.65,7.4, 7.8,7.1, 7.95,6.9, 8.1,6.7, 8.3,6.5, 8.5,6.3, 8.7,6.6, 8.9,6.8, 9.05,7.1, 9.2,7.4, 9.35,7.8, 9.5,7.6, 9.65,7.2, 9.8,7.5],
  [3.1,6.7, 3.25,7.1, 3.4,6.8, 3.55,7.0, 3.7,6.6, 3.85,6.9, 4.0,6.7, 4.1,6.9],
  [0,3.6, 0.15,4.0, 0.3,4.3, 0.45,4.0, 0.6,4.4, 0.75,4.7, 0.9,5.4, 1.0,5.5, 1.1,4.9, 1.25,4.6, 1.4,4.2, 1.55,4.7, 1.7,5.0, 1.85,5.3, 2.0,4.8, 2.15,4.9, 2.3,5.2, 2.4,4.9],
  [0,2.5, 0.1,2.0, 0.2,2.6, 0.3,1.8, 0.4,2.3, 0.5,1.6, 0.6,2.4, 0.7,2.8, 0.8,2.2, 0.9,2.7, 1.0,3.0, 1.1,2.6, 1.2,3.1, 1.3,3.4, 1.4,3.0, 1.5,3.3, 1.6,2.8, 1.7,3.1, 1.8,2.5, 1.9,2.2, 2.0,2.0],
  [0,1.3, 0.1,1.8, 0.2,1.2, 0.3,0.8, 0.4,1.5, 0.5,2.0, 0.6,1.3, 0.7,0.6, 0.8,1.0, 0.9,1.5, 1.0,0.9, 1.1,0.4, 1.2,1.1, 1.3,1.6, 1.4,1.2, 1.5,0.7, 1.6,1.3],
  [0,2.9, 0.12,2.5, 0.24,3.0, 0.36,2.3, 0.48,2.7, 0.6,3.2, 0.72,2.6, 0.84,2.2, 0.96,2.8, 1.08,3.3, 1.2,3.6, 1.32,3.2, 1.44,3.7, 1.56,3.3, 1.68,2.9, 1.8,3.1, 1.92,2.6, 2.04,2.2, 2.15,1.9],
  [0.4,0.6, 0.5,1.1, 0.6,0.5, 0.7,1.4, 0.8,0.9, 0.9,0.3, 1.0,0.8, 1.1,1.6, 1.2,1.0, 1.3,0.7, 1.4,1.2, 1.5,1.8, 1.6,1.4, 1.7,1.9, 1.8,1.3, 1.9,1.7, 2.0,1.2, 2.05,0.7],
  [3.1,2.9, 3.2,3.2, 3.3,2.7, 3.4,2.5, 3.5,2.9, 3.6,2.7, 3.7,3.0],
  [3.2,5.6, 3.35,5.9, 3.5,5.5, 3.65,5.8, 3.8,5.4, 3.95,5.7, 4.1,5.3, 4.25,5.6, 4.4,5.5, 4.55,5.8, 4.7,5.6, 4.85,5.4, 5.0,5.6, 5.1,5.5],
  [3.3,5.2, 3.45,4.8, 3.6,5.1, 3.75,4.6, 3.9,4.9, 4.05,4.4, 4.2,4.8, 4.35,4.3, 4.5,4.7, 4.65,4.1, 4.8,4.5, 4.9,3.8],
  [5.3,3.3, 5.45,3.6, 5.6,3.4, 5.75,3.8, 5.9,3.5, 6.0,3.7],
  [6.6,2.5, 6.75,2.1, 6.9,1.6, 7.05,2.2, 7.2,2.6, 7.35,2.4, 7.5,2.7, 7.65,2.5, 7.8,2.3, 7.95,2.0],
  [6.9,1.9, 7.1,2.1, 7.3,1.8, 7.5,2.2, 7.7,2.0, 7.9,1.8],
  [4.4,1.5, 4.55,1.0, 4.7,0.5, 4.85,0.2, 5.0,0.6, 5.1,1.9, 5.2,1.2, 5.35,1.5, 5.5,1.1, 5.65,1.4, 5.8,0.9, 5.95,1.2, 6.1,0.8, 6.25,1.1, 6.4,0.7, 6.55,1.0, 6.7,0.6, 6.85,0.9, 7.0,0.5, 7.15,0.8, 7.3,0.5, 7.45,1.0, 7.6,0.7, 7.75,1.2, 7.9,0.8],
  [5.0,1.8, 5.15,1.2, 5.3,0.7, 5.45,1.0, 5.6,0.6, 5.75,0.9, 5.9,0.5, 6.05,0.8, 6.2,0.3, 6.35,0.7, 6.5,0.4, 6.65,0.6, 6.8,0.2, 6.95,0.5, 7.1,0.3, 7.25,0.6, 7.4,0.4, 7.55,0.8, 7.7,0.5, 7.9,0.7],
  [14.8,9.5, 14.95,9.7, 15.1,9.4, 15.25,9.6, 15.4,9.5, 15.55,9.7, 15.7,9.4, 15.8,9.6],
  [16.6,10.0, 16.8,9.7, 17.0,9.9, 17.2,10.2, 17.4,9.8, 17.6,10.0, 17.8,9.7, 18.0,9.9, 18.2,9.8, 18.3,10.0],
  [19.2,9.9, 19.35,10.3, 19.5,9.8, 19.65,10.2, 19.8,9.9, 19.95,10.3, 20.1,10.0, 20.25,10.2, 20.4,9.9, 20.55,10.1, 20.7,10.2, 20.9,10.0, 21.1,10.2],
  [19.5,8.9, 19.6,9.6, 19.75,9.0, 19.85,8.2, 19.95,9.3, 20.05,9.6, 20.2,9.9, 20.4,9.6, 20.6,9.4, 20.8,9.2, 21.0,8.9, 21.2,8.6, 21.4,8.3, 21.6,8.1, 21.8,7.9, 22.0,7.8, 22.2,7.9, 22.4,8.0, 22.6,7.8, 22.8,7.9, 23.0,8.1],
  [21.4,10.2, 21.55,9.8, 21.7,10.3, 21.85,9.9],
  [21.7,8.9, 21.9,8.7, 22.1,8.9, 22.3,8.7, 22.5,8.8],
  [18.0,6.7, 18.2,6.5, 18.4,6.8, 18.6,6.6, 18.8,6.8, 19.0,6.6, 19.2,6.7],
  [19.7,7.1, 19.8,6.6, 19.9,6.9, 20.0,6.5, 20.1,6.8, 20.2,6.4, 20.3,6.5],
  [21.3,6.3, 21.45,6.6, 21.6,6.8, 21.75,6.6, 21.9,6.9, 22.05,6.2, 22.2,5.7],
  [21.4,6.5, 21.6,6.4, 21.8,6.7, 22.0,6.5],
  [11.0,4.9, 11.2,4.6, 11.4,4.8, 11.6,4.7, 11.8,5.0, 12.0,4.8, 12.2,5.1, 12.4,5.0, 12.6,5.3, 12.8,5.2, 13.0,5.5, 13.2,5.4, 13.4,5.7, 13.6,5.8, 13.8,6.0, 14.0,5.6, 14.2,5.3, 14.4,5.0, 14.6,4.7, 14.8,4.6, 15.0,5.1, 15.2,5.8, 15.4,6.0, 15.6,6.2, 15.8,6.0, 16.0,6.1, 16.2,5.8, 16.4,5.6, 16.6,5.7, 16.8,5.5, 17.0,5.4, 17.2,5.0, 17.4,4.9, 17.6,5.1, 17.8,4.7, 18.0,4.6, 18.2,4.5, 18.4,4.3, 18.6,4.2, 18.8,4.4],
  [11.2,4.5, 11.4,4.4, 11.6,4.6, 11.8,4.5, 12.0,4.7, 12.2,4.8, 12.4,4.6, 12.6,4.9, 12.8,5.0, 13.0,5.3, 13.2,5.6, 13.4,5.5, 13.6,5.8, 13.8,5.6, 14.0,5.2, 14.2,5.0, 14.4,4.7, 14.6,4.5, 14.8,4.8, 15.0,5.5, 15.2,5.9, 15.4,5.7],
  [15.4,6.1, 15.6,5.9, 15.8,6.2, 16.0,5.9, 16.2,6.0, 16.4,5.7, 16.6,5.9, 16.8,5.8, 17.0,5.5, 17.2,5.6, 17.4,5.4],
  [16.5,3.6, 16.7,3.9, 16.9,4.1, 17.1,4.5, 17.3,4.7, 17.5,4.9, 17.7,5.0, 17.9,4.8, 18.1,4.7, 18.3,4.5, 18.5,4.6, 18.7,4.3, 18.9,4.2, 19.1,4.0, 19.3,3.9, 19.4,3.8],
  [16.5,4.2, 16.7,4.0, 16.9,4.3, 17.1,4.1, 17.3,4.2, 17.5,4.0, 17.7,4.1, 17.9,3.9, 18.1,4.1, 18.3,3.8, 18.5,3.9, 18.7,3.7, 18.9,3.6, 19.1,3.4, 19.3,3.2],
  [19.8,3.5, 20.0,3.7, 20.2,3.6, 20.4,3.8, 20.6,3.6, 20.8,3.7, 21.0,3.5, 21.1,3.6],
  [22.1,3.6, 22.25,3.9, 22.4,4.2, 22.5,4.0, 22.6,3.5, 22.7,3.2],
  [11.9,5.7, 12.05,5.8, 12.2,5.6, 12.3,5.7],
  [11.4,7.4, 11.6,7.6, 11.8,7.3, 12.0,7.5, 12.2,7.7, 12.4,7.5, 12.6,7.8, 12.8,7.6, 13.0,7.8, 13.2,7.5, 13.4,7.7, 13.6,7.6, 13.8,7.9, 14.0,7.7, 14.2,7.5, 14.4,7.8, 14.5,7.7],
  [12.1,8.3, 12.3,8.6, 12.5,8.4, 12.7,8.9, 12.8,9.4, 12.9,8.6, 13.05,8.8, 13.1,8.5],
  [16.6,7.9, 16.75,8.1, 16.9,7.8, 17.05,8.0],
  [17.4,1.2, 17.5,0.8, 17.6,1.4, 17.7,0.9, 17.8,1.3, 17.9,0.7, 18.0,1.1, 18.1,1.5],
  [21.7,1.8, 21.9,1.5, 22.1,1.6, 22.3,1.3, 22.5,1.6, 22.7,1.4, 22.9,2.0],
  [22.9,2.1, 23.0,2.8, 23.1,3.4, 23.2,2.6, 23.3,3.5, 23.4,2.2, 23.5,3.8, 23.6,2.5, 23.7,3.1, 23.8,1.8, 23.9,3.9, 24.0,2.6],
  [23.0,1.6, 23.1,2.2, 23.2,1.5, 23.3,2.4, 23.4,1.3, 23.5,2.0, 23.6,1.0, 23.7,2.3, 23.8,0.8, 23.9,1.5, 24.0,0.6],
  [23.2,3.0, 23.3,2.0, 23.4,3.2, 23.5,1.5, 23.6,3.6, 23.7,1.4, 23.8,2.8, 23.9,0.7, 24.0,1.9],
  [23.6,4.0, 23.7,3.4, 23.8,4.2, 23.9,3.6, 24.0,4.3],
  [23.5,0.5, 23.6,1.2, 23.7,0.4, 23.8,1.0, 23.9,0.3, 24.0,0.9]
];

const magentaTrace = [14.0,41.0, 14.1,40.1, 14.2,41.2, 14.3,40.6, 14.4,41.3, 14.5,40.8, 14.6,41.5, 14.7,41.2, 14.8,41.7, 14.9,41.6, 15.0,42.1, 15.1,41.7, 15.2,42.0, 15.3,41.8, 15.4,42.1, 15.5,41.7, 15.6,41.3, 15.7,41.6, 15.8,40.7, 15.9,41.1, 16.0,41.5, 16.1,41.9, 16.2,42.1, 16.3,41.4, 16.4,41.6, 16.5,41.8, 16.6,41.2, 16.7,41.5, 16.8,41.0, 16.9,40.8, 17.0,41.1, 17.1,40.6, 17.2,40.3, 17.25,40.0];

const cyanTrace = [16.1,35.0, 16.2,34.6, 16.3,34.9, 16.4,34.2, 16.5,34.5, 16.6,33.8, 16.7,33.4, 16.8,33.6, 16.9,33.2, 17.0,33.5, 17.2,33.3, 17.4,33.6, 17.6,33.3, 17.8,33.5, 18.0,33.2, 18.2,33.4, 18.4,33.0, 18.6,33.2, 18.8,32.8, 18.9,32.6, 19.0,32.9, 19.1,32.6, 19.2,32.9, 19.3,32.7, 19.4,33.0, 19.5,32.8, 19.6,33.1, 19.7,32.8, 19.8,33.2, 19.9,32.9, 20.0,33.2, 20.1,33.0, 20.2,33.3, 20.3,33.1, 20.4,33.4, 20.5,33.1, 20.6,33.5, 20.7,33.2, 20.8,33.6, 20.9,33.3, 21.0,33.7, 21.1,33.4, 21.2,33.7, 21.3,33.5, 21.4,33.9, 21.5,33.5, 21.6,33.8, 21.7,33.6, 21.8,34.0, 21.9,33.6, 22.0,33.9, 22.1,33.5, 22.2,33.8, 22.3,34.1, 22.4,33.7, 22.5,34.0, 22.6,33.8, 22.7,34.1, 22.8,33.7, 22.9,33.5, 23.0,33.8, 23.1,33.4, 23.2,33.6, 23.3,33.9, 23.4,33.5, 23.5,34.0, 23.6,33.6, 23.7,33.2];

// ellipse drawn round the event near 20 UT (centre and half-axes in data units)
const circleCenter = [20.18, 43.2];
const circleRadius = [1.66, 2.64];

const xTicks = [0, 24, 1];   // min, max, step
const yTicks = [0, 45, 5];

const FONT = '"DejaVu Sans", sans-serif';

function toPoints(flat) {
  const pts = [];
  for (let i = 0; i < flat.length; i += 2) pts.push({ x: flat[i], y: flat[i + 1] });
  return pts;
}

const datasets = [];
[bandTop, band30, band20, band10, band0].forEach(band => {
  band.forEach(tr => datasets.push({
    data: toPoints(tr), borderColor: '#000', borderWidth: 1.3, pointRadius: 0, tension: 0
  }));
});
datasets.push({ data: toPoints(magentaTrace), borderColor: '#ff00ff', borderWidth: 2, pointRadius: 0, tension: 0 });
datasets.push({ data: toPoints(cyanTrace), borderColor: '#00e8ea', borderWidth: 2.5, pointRadius: 0, tension: 0 });

const framePlugin = {
  id: 'frame',
  afterDraw(chart) {
    const { ctx, chartArea: a, scales: { x, y } } = chart;
    ctx.save();
    ctx.strokeStyle = '#555';
    ctx.lineWidth = 1;
    ctx.strokeRect(Math.round(a.left) + 0.5, Math.round(a.top) + 0.5, Math.round(a.right - a.left), Math.round(a.bottom - a.top));
    ctx.beginPath();
    x.ticks.forEach(t => {
      const px = Math.round(x.getPixelForValue(t.value)) + 0.5;
      ctx.moveTo(px, a.bottom); ctx.lineTo(px, a.bottom - 5);
      ctx.moveTo(px, a.top); ctx.lineTo(px, a.top + 5);
    });
    y.ticks.forEach(t => {
      const py = Math.round(y.getPixelForValue(t.value)) + 0.5;
      ctx.moveTo(a.left, py); ctx.lineTo(a.left + 6, py);
      ctx.moveTo(a.right, py); ctx.lineTo(a.right - 6, py);
    });
    ctx.stroke();

    // y axis title with subscript C
    ctx.fillStyle = '#1a1a1a';
    ctx.translate(27, 238);
    ctx.rotate(-Math.PI / 2);
    ctx.textBaseline = 'alphabetic';
    ctx.font = '15px ' + FONT;
    const w1 = ctx.measureText('z').width;
    const rest = '(t) - fit(t), shifted (km)';
    const w3 = ctx.measureText(rest).width;
    ctx.font = '11px ' + FONT;
    const w2 = ctx.measureText('C').width;
    let sx = -(w1 + w2 + w3) / 2;
    ctx.font = '15px ' + FONT;
    ctx.fillText('z', sx, 0);
    ctx.font = '11px ' + FONT;
    ctx.fillText('C', sx + w1, 3);
    ctx.font = '15px ' + FONT;
    ctx.fillText(rest, sx + w1 + w2, 0);
    ctx.restore();
  },
  afterDatasetsDraw(chart) {
    const { ctx, scales: { x, y } } = chart;
    const cx = x.getPixelForValue(circleCenter[0]);
    const cy = y.getPixelForValue(circleCenter[1]);
    const rx = Math.abs(x.getPixelForValue(circleCenter[0] + circleRadius[0]) - cx);
    const ry = Math.abs(y.getPixelForValue(circleCenter[1] + circleRadius[1]) - cy);
    ctx.save();
    ctx.strokeStyle = '#000';
    ctx.lineWidth = 1.5;
    ctx.beginPath();
    ctx.ellipse(cx, cy, rx, ry, 0, 0, Math.PI * 2);
    ctx.stroke();
    ctx.restore();
  }
};

new Chart(document.getElementById('chart'), {
  type: 'line',
  data: { datasets },
  options: {
    responsive: false,
    animation: false,
    events: [],
    layout: { padding: { left: 0, right: 11, top: 20, bottom: 0 } },
    plugins: { legend: { display: false }, tooltip: { enabled: false } },
    scales: {
      x: {
        type: 'linear', min: xTicks[0], max: xTicks[1],
        grid: { display: false, drawTicks: false },
        border: { display: false },
        ticks: {
          stepSize: xTicks[2], autoSkip: false, maxRotation: 0, padding: 4,
          color: '#1a1a1a', font: { family: FONT, size: 15 },
          callback: v => (v % 2 === 0 ? String(v).padStart(2, '0') : '')
        },
        title: { display: true, text: 'Time (UT)', color: '#1a1a1a', font: { family: FONT, size: 15 }, padding: { top: 0, bottom: 3 } },
        afterFit: s => { s.height = 55; }
      },
      y: {
        type: 'linear', min: yTicks[0], max: yTicks[1],
        grid: { display: false, drawTicks: false },
        border: { display: false },
        ticks: { stepSize: yTicks[2], padding: 10, color: '#1a1a1a', font: { family: FONT, size: 15 } },
        afterFit: s => { s.width = 73; }
      }
    }
  },
  plugins: [framePlugin]
});
</script>
</body>
</html>
